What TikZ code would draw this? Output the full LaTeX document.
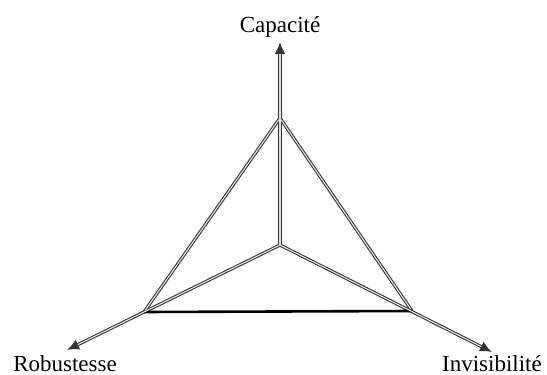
\documentclass[tikz,border=0pt]{standalone}
\usepackage{fontspec}
\setmainfont{Liberation Serif}
\usetikzlibrary{arrows.meta}
\begin{document}
\begin{tikzpicture}[x=1pt,y=-1pt,
  outer/.style={line width=3.2pt,draw=black!80},
  inner/.style={line width=1.1pt,draw=white!90!black},
  axisarrow/.style={outer,-{Latex[length=12pt,width=11pt]}},
  lbl/.style={font=\fontsize{23}{26}\selectfont,inner sep=0pt,anchor=base}]
\useasboundingbox (0,0) rectangle (547,375);
\coordinate (o) at (280,245);
\coordinate (c) at (280,42);
\coordinate (r) at (67,350);
\coordinate (i) at (492,352);
\coordinate (t1) at (280,118);
\coordinate (t2) at (144,312);
\coordinate (t3) at (412,311);
% axes
\draw[axisarrow] (o) -- (c);
\draw[axisarrow] (o) -- (r);
\draw[axisarrow] (o) -- (i);
% triangle
\draw[outer,line cap=round] (t1) -- (t2);
\draw[outer,line cap=round] (t1) -- (t3);
\draw[line width=2.6pt,black] (t2) -- (t3);
% inner white lines
\draw[inner,shorten >=12pt] (o) -- (c);
\draw[inner,shorten >=12pt] (o) -- (r);
\draw[inner,shorten >=12pt] (o) -- (i);
\draw[inner,shorten <=2pt,shorten >=2pt] (t1) -- (t2);
\draw[inner,shorten <=2pt,shorten >=2pt] (t1) -- (t3);
% labels
\node[lbl] (lc) at (280,32) {Capacité};
\node[lbl] (lr) at (65,371) {Robustesse};
\node[lbl] (li) at (492,371) {Invisibilité};
\end{tikzpicture}
\end{document}
